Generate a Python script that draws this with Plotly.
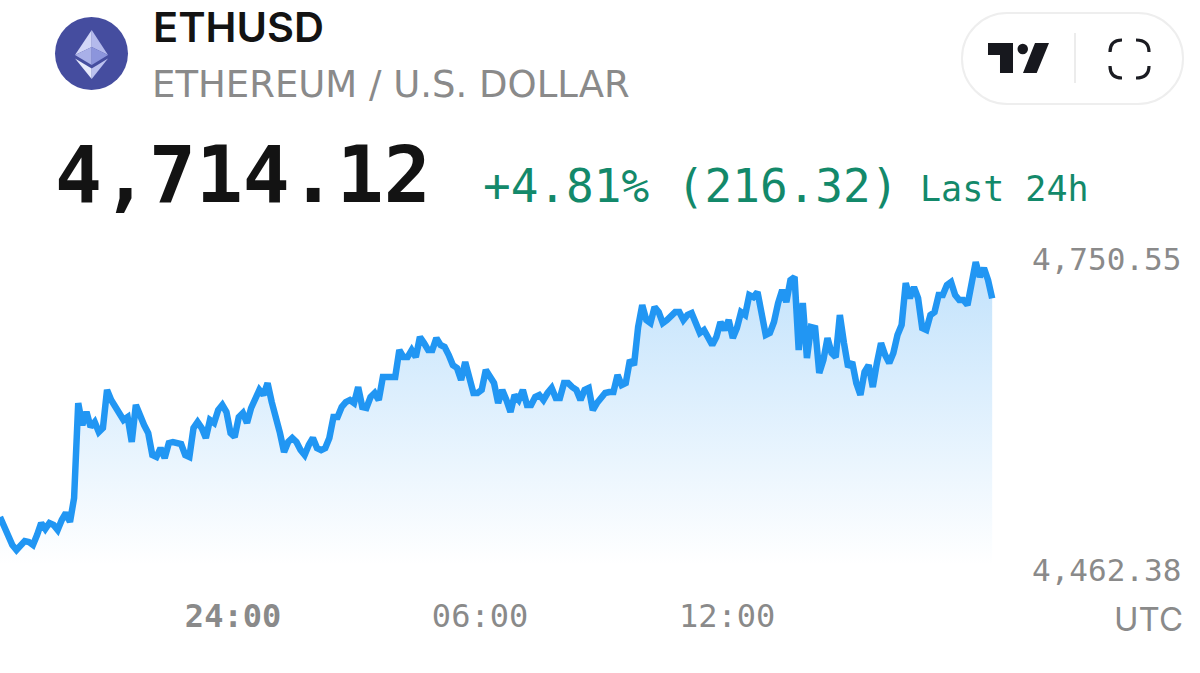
import plotly.graph_objects as go

W, H = 1200, 673

# ---- data ----
symbol = "ETHUSD"
name = "ETHEREUM / U.S. DOLLAR"
last_price = "4,714.12"
change_text = "+4.81% (216.32)"
window_text = "Last 24h"
time_zone = "UTC"

start_hour = -5.66      # hours relative to 24:00
step_hour = 0.1

prices = [
    4511.5, 4502.2, 4492.9, 4485.5, 4480.9, 4485.5, 4489.2, 4488.3, 4485.5, 4494.8,
    4505.9, 4500.4, 4505.9, 4504.1, 4499.4, 4508.7, 4515.2, 4506.9, 4529.1, 4617.1,
    4596.7, 4608.8, 4594.9, 4599.5, 4590.2, 4593.9, 4629.2, 4619.9, 4613.4, 4608.8,
    4601.4, 4604.1, 4581.0, 4615.3, 4604.1, 4596.7, 4589.3, 4568.9, 4567.1, 4575.4,
    4566.1, 4580.0, 4581.0, 4580.0, 4579.1, 4568.9, 4567.1, 4593.9, 4599.5, 4593.9,
    4584.7, 4601.4, 4598.6, 4610.6, 4615.3, 4608.8, 4589.3, 4585.6, 4604.1, 4607.9,
    4598.6, 4612.5, 4621.8, 4629.2, 4624.5, 4635.6, 4618.0, 4606.0, 4589.3, 4571.7,
    4581.0, 4584.7, 4581.0, 4573.5, 4568.9, 4578.2, 4584.7, 4575.4, 4573.5, 4575.4,
    4584.7, 4604.1, 4604.1, 4613.4, 4618.0, 4619.9, 4617.1, 4631.9, 4613.4, 4612.5,
    4622.7, 4626.4, 4619.9, 4641.2, 4641.2, 4640.3, 4641.2, 4666.2, 4659.7, 4659.7,
    4666.2, 4659.7, 4678.3, 4672.7, 4666.2, 4666.2, 4677.3, 4670.9, 4669.0, 4661.6,
    4652.3, 4649.6, 4638.4, 4655.1, 4643.1, 4626.4, 4626.4, 4629.2, 4647.7, 4641.2,
    4635.6, 4617.1, 4629.2, 4619.9, 4608.8, 4624.5, 4619.9, 4629.2, 4615.3, 4615.3,
    4622.7, 4624.5, 4619.9, 4626.4, 4631.0, 4621.8, 4621.8, 4635.6, 4635.6, 4631.9,
    4629.2, 4619.9, 4629.2, 4631.0, 4610.6, 4617.1, 4622.7, 4626.4, 4627.3, 4627.3,
    4643.1, 4633.8, 4635.6, 4657.0, 4652.3, 4687.5, 4707.9, 4694.0, 4691.2, 4706.1,
    4701.4, 4691.2, 4694.0, 4698.7, 4701.4, 4701.4, 4694.0, 4698.7, 4700.5, 4691.2,
    4682.0, 4684.8, 4678.3, 4670.9, 4678.3, 4692.2, 4684.8, 4694.0, 4677.3, 4686.6,
    4701.4, 4698.7, 4717.2, 4715.3, 4720.0, 4696.8, 4680.1, 4682.0, 4692.2, 4709.8,
    4721.8, 4710.7, 4731.1, 4733.9, 4666.2, 4709.8, 4658.8, 4687.5, 4686.6, 4644.9,
    4657.0, 4677.3, 4663.4, 4659.7, 4698.7, 4672.7, 4650.5, 4655.1, 4635.6, 4624.5,
    4645.9, 4652.3, 4631.9, 4654.2, 4672.7, 4661.6, 4654.2, 4663.4, 4680.1, 4689.4,
    4728.3, 4714.4, 4724.6, 4714.4, 4686.6, 4684.8, 4698.7, 4701.4, 4717.2, 4717.2,
    4726.5, 4729.2, 4717.2, 4712.6, 4712.6, 4707.9, 4729.2, 4747.8, 4733.9, 4742.2,
    4731.1, 4714.12,
]
fill_floor = 4467.0

x_ticks = [0, 6, 12]
x_labels = ["<b>24:00</b>", "06:00", "12:00"]
y_ticks = [4750.55, 4462.38]
y_labels = ["4,750.55", "4,462.38"]

hours = [start_hour + step_hour * i for i in range(len(prices))]

# ---- helpers: pixel position to paper fraction ----
def px(x):
    return x / W

def py(y):
    return 1 - y / H

def path(points, close=True):
    s = "M " + " L ".join(f"{px(a):.5f},{py(b):.5f}" for a, b in points)
    return s + (" Z" if close else "")

def poly(points, color):
    return dict(type="path", xref="paper", yref="paper", path=path(points),
                fillcolor=color, line=dict(width=0), layer="above")

def corner(p0, c, p1):
    s = (f"M {px(p0[0]):.5f},{py(p0[1]):.5f} "
         f"Q {px(c[0]):.5f},{py(c[1]):.5f} {px(p1[0]):.5f},{py(p1[1]):.5f}")
    return dict(type="path", xref="paper", yref="paper", path=s,
                line=dict(color="#1b1c22", width=3.2), layer="above")

def pill(l, t, r, b, rad):
    k = rad * 0.45
    seq = [
        ("M", (l + rad, t)), ("L", (r - rad, t)),
        ("C", (r - k, t), (r, t + k), (r, t + rad)),
        ("L", (r, b - rad)),
        ("C", (r, b - k), (r - k, b), (r - rad, b)),
        ("L", (l + rad, b)),
        ("C", (l + k, b), (l, b - k), (l, b - rad)),
        ("L", (l, t + rad)),
        ("C", (l, t + k), (l + k, t), (l + rad, t)),
    ]
    s = ""
    for seg in seq:
        s += seg[0] + " " + " ".join(f"{px(a):.5f},{py(b_):.5f}" for a, b_ in seg[1:]) + " "
    return s + "Z"

INTER = "Inter, 'Noto Sans', sans-serif"
SANS = "'DejaVu Sans', sans-serif"
MONO = "'DejaVu Sans Mono', monospace"
GREY = "#8a8a8a"
GREEN = "#13896a"
BLUE = "#2196f3"

fig = go.Figure()
fig.add_trace(go.Scatter(x=hours, y=[fill_floor] * len(hours), mode="lines",
                         line=dict(width=0), hoverinfo="skip", showlegend=False))
fig.add_trace(go.Scatter(
    x=hours, y=prices, mode="lines", fill="tonexty",
    line=dict(color=BLUE, width=6.5, shape="linear"),
    fillgradient=dict(type="vertical", start=4750.55, stop=fill_floor,
                      colorscale=[[0, "rgba(33,150,243,0.28)"],
                                  [1, "rgba(33,150,243,0.0)"]]),
    showlegend=False,
))

shapes = [
    # instrument logo
    dict(type="circle", xref="paper", yref="paper", x0=px(55), x1=px(128),
         y0=py(90), y1=py(17), fillcolor="#454d9f", line=dict(width=0)),
    poly([(91.7, 30), (75, 55), (91.7, 47)], "#d3d7f7"),
    poly([(91.7, 30), (108, 55), (91.7, 47)], "#b4baec"),
    poly([(75, 55), (91.7, 47), (91.7, 65)], "#a9b0e8"),
    poly([(108, 55), (91.7, 47), (91.7, 65)], "#8c95dc"),
    poly([(75, 58.5), (91.7, 68.5), (91.7, 79)], "#e6e9fb"),
    poly([(108, 58.5), (91.7, 68.5), (91.7, 79)], "#bcc2ef"),
    # button pill
    dict(type="path", xref="paper", yref="paper", path=pill(962, 13, 1183, 104, 45),
         fillcolor="#ffffff", line=dict(color="#eeeeee", width=2)),
    dict(type="line", xref="paper", yref="paper", x0=px(1075), x1=px(1075),
         y0=py(33), y1=py(83), line=dict(color="#e6e6e6", width=1.5)),
    # chart-provider mark
    poly([(988, 43), (1013, 43), (1013, 73), (1000, 73), (1000, 55), (988, 55)], "#17181e"),
    dict(type="circle", xref="paper", yref="paper", x0=px(1017.5), x1=px(1028),
         y0=py(54.2), y1=py(43.8), fillcolor="#17181e", line=dict(width=0)),
    poly([(1035, 43), (1049, 43), (1036.7, 73), (1023, 73)], "#17181e"),
    # fullscreen corners
    corner((1110, 52), (1110, 40), (1122, 40)),
    corner((1136, 40), (1149, 40), (1149, 52)),
    corner((1110, 66), (1110, 78), (1122, 78)),
    corner((1136, 78), (1149, 78), (1149, 66)),
]

def label(text, x, y, size, color, weight=400, anchor="left", family=MONO):
    return dict(text=text, x=px(x), y=py(y), xref="paper", yref="paper",
                xanchor=anchor, yanchor="middle", showarrow=False,
                font=dict(family=family, size=size, color=color, weight=weight))

annotations = [
    label(symbol, 151, 27, 41.5, "#131313", 600, family=INTER),
    label(name, 150, 84, 37, GREY, family=SANS),
    label(last_price, 53, 175, 78, "#131313", 700),
    label(change_text, 481, 186, 46, GREEN),
    label(window_text, 918, 189, 35, GREEN),
    label(time_zone, 1185, 619, 33, GREY, anchor="right", family=INTER),
]

fig.update_layout(
    width=W, height=H, margin=dict(l=0, r=0, t=0, b=0),
    paper_bgcolor="#ffffff", plot_bgcolor="rgba(0,0,0,0)",
    shapes=shapes, annotations=annotations, showlegend=False,
    hovermode=False,
    xaxis=dict(domain=[0, 1031 / W], range=[-5.66, 19.383], tickmode="array",
               tickvals=x_ticks, ticktext=x_labels, showgrid=False, zeroline=False,
               showline=False, ticks="", tickangle=0,
               tickfont=dict(family=MONO, size=32, color=GREY)),
    yaxis=dict(domain=[py(594), py(240)], range=[4440.1, 4768.2], side="right",
               tickmode="array", tickvals=y_ticks, ticktext=y_labels,
               showgrid=False, zeroline=False, showline=False, ticks="",
               tickfont=dict(family=MONO, size=31, color=GREY)),
)

fig.write_html("out.html", post_script="document.body.style.margin='0';document.body.style.background='#fff';",
               config=dict(displayModeBar=False))
